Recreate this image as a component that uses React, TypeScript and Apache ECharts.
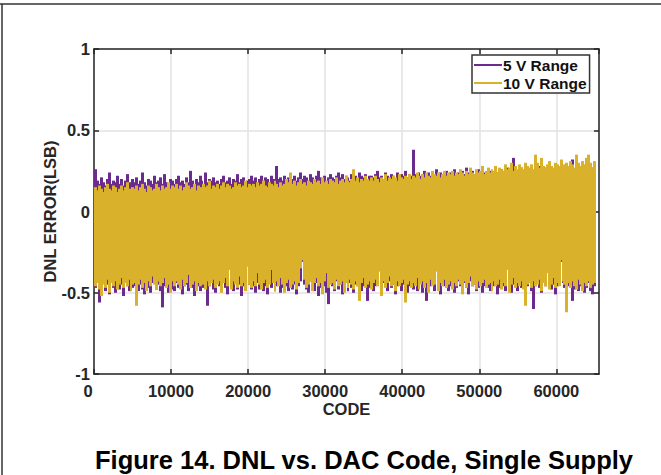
import React, { useEffect, useRef } from "react";
import * as echarts from "echarts";

// DNL values in units of 0.01 LSB, one min/max pair per 256-code bin (bins 0..253)
const CODES_PER_BIN = 256;
const xTicks = [0, 10000, 20000, 30000, 40000, 50000, 60000];
const yTicks = [-1, -0.5, 0, 0.5, 1];
const seriesNames = ["5 V Range", "10 V Range"];

const dnl5High = [
  26,19,17,21,18,16,20,24,17,19,18,22,17,20,16,19,23,18,17,20,
  18,21,17,19,24,18,16,20,19,17,22,18,19,21,17,23,18,16,20,19,
  17,20,22,18,19,17,21,18,25,19,17,20,18,22,19,17,24,18,20,19,
  21,18,19,17,20,22,18,19,21,17,20,19,23,18,20,21,18,19,20,22,
  19,21,18,20,22,19,21,20,18,22,20,19,28,20,21,19,22,20,21,23,
  20,22,19,21,24,20,22,21,19,23,21,20,22,25,21,20,22,19,21,23,
  21,20,22,24,21,23,20,22,21,19,23,21,22,20,24,22,21,23,20,22,
  22,21,23,25,21,22,20,24,22,21,23,22,20,24,21,23,22,25,21,23,
  22,38,23,21,24,22,23,25,21,24,22,23,21,26,22,24,23,22,25,23,
  24,22,26,23,24,22,25,23,27,24,22,25,23,24,26,22,25,24,23,26,
  25,23,24,27,24,22,26,25,23,27,24,26,33,24,25,23,27,24,26,25,
  24,27,25,23,26,28,24,25,27,24,26,25,23,27,25,24,26,28,25,24,
  27,25,32,24,26,25,27,24,26,28,25,24,27,26,
];
const dnl5Low = [
  -47,-44,-56,-46,-43,-49,-45,-51,-42,-47,-50,-44,-48,-45,-52,-43,-46,-49,-44,-47,
  -46,-43,-49,-45,-48,-51,-43,-47,-50,-44,-42,-48,-45,-49,-59,-46,-43,-50,-45,-48,
  -49,-44,-47,-43,-51,-46,-45,-49,-43,-47,-52,-44,-46,-49,-43,-47,-45,-58,-46,-43,
  -48,-50,-44,-46,-49,-43,-47,-51,-35,-46,-49,-43,-48,-45,-52,-46,-43,-33,-45,-48,
  -46,-50,-44,-48,-43,-49,-46,-51,-44,-47,-43,-49,-46,-44,-50,-47,-43,-46,-49,-44,
  -48,-45,-51,-46,-43,-31,-45,-48,-50,-43,-46,-49,-44,-52,-47,-43,-46,-50,-57,-44,
  -46,-49,-43,-48,-45,-51,-46,-43,-49,-44,-47,-50,-45,-46,-43,-49,-46,-44,-55,-47,
  -45,-49,-46,-43,-36,-50,-44,-46,-49,-43,-47,-45,-51,-46,-43,-49,-45,-47,-50,-46,
  -43,-48,-45,-49,-46,-43,-50,-44,-55,-47,-46,-43,-49,-36,-47,-51,-45,-46,-43,-49,
  -46,-44,-50,-47,-43,-46,-49,-44,-47,-51,-43,-46,-45,-49,-47,-43,-50,-46,-44,-47,
  -49,-45,-46,-43,-51,-47,-44,-46,-49,-35,-47,-50,-45,-46,-49,-43,-47,-45,-51,-46,
  -44,-49,-60,-46,-43,-47,-50,-44,-46,-37,-43,-48,-45,-51,-46,-43,-31,-44,-47,-50,
  -46,-43,-55,-48,-45,-49,-46,-43,-50,-47,-44,-49,-51,-46,
];
const dnl10High = [
  15,13,16,14,12,15,17,14,13,16,15,12,14,16,13,15,18,14,13,15,
  14,16,13,15,17,14,12,16,15,13,14,17,15,13,16,14,15,18,14,16,
  15,17,14,16,13,15,18,16,14,15,17,13,16,15,14,17,15,16,19,14,
  16,15,17,14,16,18,15,17,16,14,15,18,16,17,15,16,19,15,17,16,
  17,15,18,16,17,19,16,15,18,17,16,19,17,15,18,16,17,20,18,24,
  17,19,16,18,20,17,18,16,19,18,17,20,18,19,17,21,18,19,17,20,
  19,18,21,17,19,20,18,22,19,18,20,26,19,21,18,20,19,22,20,19,
  21,19,22,20,18,21,20,23,19,21,20,22,21,19,23,21,20,22,21,23,
  20,22,21,24,22,20,23,21,24,22,21,25,23,22,24,21,23,25,22,24,
  23,25,22,24,23,26,24,22,25,23,27,24,23,26,24,25,28,23,25,27,
  24,26,25,28,24,27,26,25,29,26,27,30,25,28,26,29,27,26,30,28,
  27,29,26,35,30,27,33,28,27,29,31,28,27,30,29,28,32,27,29,30,
  28,31,29,27,35,30,28,31,29,33,35,30,27,31,
];
const dnl10Low = [
  -46,-44,-48,-52,-45,-47,-42,-50,-44,-46,-43,-48,-45,-41,-47,-44,-46,-42,-49,-45,
  -44,-58,-45,-42,-47,-44,-49,-43,-46,-40,-45,-48,-43,-46,-44,-41,-47,-45,-50,-43,
  -46,-43,-45,-48,-42,-46,-44,-39,-47,-45,-43,-49,-44,-46,-42,-45,-48,-43,-46,-44,
  -42,-47,-45,-43,-50,-44,-41,-46,-36,-48,-43,-45,-47,-40,-46,-44,-49,-34,-45,-47,
  -43,-46,-38,-45,-48,-44,-42,-47,-45,-36,-44,-49,-43,-46,-41,-45,-50,-44,-42,-47,
  -45,-43,-48,-44,-35,-30,-42,-47,-45,-43,-49,-44,-41,-46,-44,-51,-43,-38,-47,-45,
  -44,-48,-42,-46,-45,-43,-50,-44,-47,-42,-45,-48,-43,-46,-55,-44,-41,-47,-45,-43,
  -48,-44,-42,-46,-37,-52,-43,-47,-44,-40,-46,-45,-49,-43,-46,-44,-42,-56,-45,-43,
  -47,-44,-46,-41,-48,-45,-43,-47,-44,-50,-42,-46,-45,-37,-49,-44,-46,-42,-47,-45,
  -43,-48,-44,-46,-42,-45,-51,-43,-47,-44,-40,-46,-45,-48,-43,-46,-44,-42,-47,-45,
  -44,-49,-43,-46,-45,-42,-48,-44,-46,-36,-50,-45,-41,-47,-44,-46,-43,-48,-58,-45,
  -44,-47,-43,-46,-45,-42,-49,-44,-46,-38,-48,-45,-41,-47,-44,-46,-30,-43,-45,-62,
  -44,-47,-43,-46,-48,-42,-45,-49,-44,-46,-43,-47,-45,-44,
];

const PURPLE = "#6b2a8e";
const YELLOW = "#d9b12b";
const AXIS = "#262626";
const FONT = "'Liberation Sans', Arial, sans-serif";

function bins(low: number[], high: number[]) {
  return low.map((lo, i) => [i * CODES_PER_BIN, (i + 1) * CODES_PER_BIN, lo / 100, high[i] / 100]);
}

function makeRender(color: string) {
  return (params: any, api: any) => {
    const p0 = api.coord([api.value(0), api.value(3)]);
    const p1 = api.coord([api.value(1), api.value(2)]);
    const x = Math.round(p0[0]);
    const w = Math.max(1, Math.round(p1[0]) - x + 1);
    return {
      type: "rect",
      shape: { x, y: p0[1], width: w, height: p1[1] - p0[1] },
      style: { fill: color, stroke: null },
    };
  };
}

export default function App() {
  const ref = useRef<HTMLDivElement>(null);
  useEffect(() => {
    if (!ref.current) return;
    const chart = echarts.init(ref.current, undefined, { renderer: "svg" });
    const labelStyle = { color: AXIS, fontFamily: FONT, fontWeight: "bold" as const, fontSize: 16.5 };
    const xCommon = {
      type: "value" as const,
      min: xTicks[0],
      max: 65535,
      interval: xTicks[1] - xTicks[0],
      axisLine: { show: true, onZero: false, lineStyle: { color: AXIS, width: 1.5 } },
      axisTick: { show: true, inside: true, length: 5, lineStyle: { color: AXIS, width: 1.5 } },
    };
    const yCommon = {
      type: "value" as const,
      min: yTicks[0],
      max: yTicks[yTicks.length - 1],
      interval: yTicks[1] - yTicks[0],
      axisLine: { show: true, onZero: false, lineStyle: { color: AXIS, width: 1.5 } },
      axisTick: { show: true, inside: true, length: 5, lineStyle: { color: AXIS, width: 1.5 } },
    };
    chart.setOption({
      animation: false,
      backgroundColor: "#ffffff",
      grid: { left: 94, top: 49, right: 62, bottom: 101, containLabel: false },
      xAxis: [
        {
          ...xCommon,
          position: "bottom",
          name: "CODE",
          nameLocation: "middle",
          nameGap: 26,
          nameMoveOverlap: false,
          nameTextStyle: { ...labelStyle },
          axisLabel: {
            ...labelStyle,
            margin: 8,
            showMaxLabel: false,
            formatter: (v: number) => (v === 0 ? "{z|0}" : String(v)),
            rich: { z: { ...labelStyle, padding: [0, 12, 0, 0] } },
          },
          splitLine: { show: true, lineStyle: { color: "#e2e2e2", width: 1.5 } },
        },
        { ...xCommon, position: "top", axisLabel: { show: false }, splitLine: { show: false } },
      ],
      yAxis: [
        {
          ...yCommon,
          position: "left",
          name: "DNL ERROR(LSB)",
          nameLocation: "middle",
          nameGap: 36,
          nameMoveOverlap: false,
          nameTextStyle: { ...labelStyle },
          axisLabel: { ...labelStyle, margin: 4 },
          splitLine: { show: true, lineStyle: { color: "#e2e2e2", width: 1.5 } },
        },
        { ...yCommon, position: "right", axisLabel: { show: false }, splitLine: { show: false } },
      ],
      legend: {
        orient: "vertical",
        left: 472,
        top: 55,
        data: seriesNames.map((n) => ({ name: n, icon: "rect" })),
        itemWidth: 28,
        itemHeight: 2,
        itemGap: 2,
        padding: [2, 3, 2, 2],
        borderColor: "#333333",
        borderWidth: 1.5,
        backgroundColor: "#ffffff",
        textStyle: { ...labelStyle, fontSize: 15.5, color: "#111", padding: [0, 0, 0, -4] },
        selectedMode: false,
      },
      graphic: [
        { type: "line", shape: { x1: 0, y1: 4, x2: 661, y2: 4 }, style: { stroke: "#333", lineWidth: 1.5 } },
        { type: "line", shape: { x1: 2, y1: 4, x2: 2, y2: 475 }, style: { stroke: "#333", lineWidth: 1.5 } },
        {
          type: "text",
          x: 364,
          y: 460,
          style: {
            text: "Figure 14. DNL vs. DAC Code, Single Supply",
            fill: "#000",
            font: `bold 25.5px ${FONT}`,
            textAlign: "center",
            textVerticalAlign: "middle",
          },
        },
      ],
      series: [
        {
          name: seriesNames[0],
          type: "custom",
          clip: true,
          itemStyle: { color: PURPLE },
          encode: { x: [0, 1], y: [2, 3] },
          renderItem: makeRender(PURPLE),
          data: bins(dnl5Low, dnl5High),
        },
        {
          name: seriesNames[1],
          type: "custom",
          clip: true,
          itemStyle: { color: YELLOW },
          encode: { x: [0, 1], y: [2, 3] },
          renderItem: makeRender(YELLOW),
          data: bins(dnl10Low, dnl10High),
        },
      ],
    });
    return () => chart.dispose();
  }, []);
  return (
    <div
      ref={ref}
      style={{ position: "absolute", left: 0, top: 0, width: 661, height: 475, background: "#fff" }}
    />
  );
}
